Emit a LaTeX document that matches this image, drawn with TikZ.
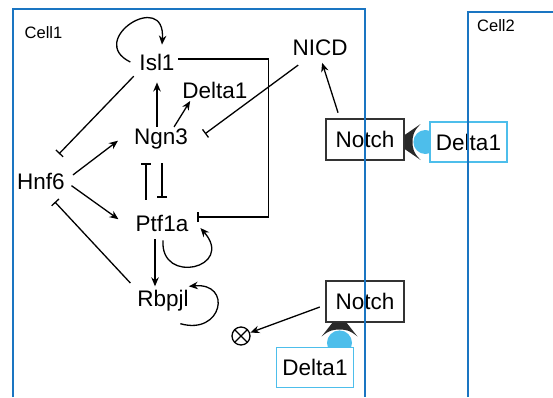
\documentclass[tikz,border=0pt]{standalone}
\usepackage{fontspec}
\setmainfont{Liberation Sans}
\usetikzlibrary{arrows.meta,backgrounds}

\definecolor{cellblue}{HTML}{1A75C2}
\definecolor{ligandblue}{HTML}{4DBEEB}
\definecolor{boxgray}{HTML}{333333}

\newcommand{\genefont}{\fontsize{22.5}{27}\selectfont}
\newcommand{\cellfont}{\fontsize{16.5}{20}\selectfont}

\tikzset{
	gene/.style={font=\genefont, inner sep=0pt},
	receptor/.style={draw=boxgray, line width=1.2pt, fill=white, font=\genefont, minimum width=78pt, minimum height=41pt, inner sep=0pt},
	ligand/.style={receptor, draw=ligandblue, minimum width=77pt, minimum height=40pt},
	act/.style={line width=1.3pt, -{Stealth[length=9pt,width=7.5pt]}},
	inh/.style={line width=1.3pt, -{Bar[width=10pt]}},
	cellwall/.style={draw=cellblue, line width=2pt},
	cup/.style={fill=boxgray!80!black},
}

\begin{document}
\begin{tikzpicture}[x=1pt, y=-1pt]
	\useasboundingbox (0,0) rectangle (553,397);

	\node[gene] (isl) at (157,62) {Isl1};
	\node[gene] (dl) at (215,90) {Delta1};
	\node[gene] (ngn) at (161,139) {Ngn3};
	\node[gene] (hnf) at (41,181) {Hnf6};
	\node[gene] (ptf) at (162,223) {Ptf1a};
	\node[gene] (rbp) at (163,301) {Rbpjl};
	\node[gene] (nicd) at (320,48) {NICD};
	\node[receptor] (notchA) at (365,139.5) {Notch};
	\node[ligand] (deltaA) at (468.5,142) {Delta1};
	\node[receptor] (notchB) at (365,301.5) {Notch};
	\node[ligand] (deltaB) at (315,367.5) {Delta1};
	\node[draw, circle, line width=1.3pt, minimum size=18pt, inner sep=0pt, outer sep=0pt] (ox) at (241,336) {};
	\draw[line width=1.3pt] (ox.45) -- (ox.225) (ox.135) -- (ox.-45);

	\node[font=\cellfont] (cellA) at (43.5,33) {Cell1};
	\node[font=\cellfont] (cellB) at (496,26) {Cell2};

	\draw[act] ([xshift=-9pt]isl.west) .. controls +(-45,-22) and +(4,-56) .. ([shift={(5pt,9pt)}]isl.north);
	\draw[inh, shorten <=8pt, shorten >=26pt] (isl.south west) -- (hnf.north);
	\draw[act, shorten <=10pt, shorten >=20pt] (hnf.east) -- (ngn.north west);
	\draw[act, shorten <=8pt, shorten >=21pt] (hnf.east) -- (ptf.south west);
	\draw[inh, shorten <=10pt, shorten >=17pt] (rbp.north west) -- (hnf.-75);
	\draw[act, shorten <=2pt, shorten >=12pt] (ngn.north -| isl.south) -- (isl.south);
	\draw[act, shorten <=2pt, shorten >=3pt] ([xshift=12pt]ngn.north) -- (dl.-160);
	\draw[inh, shorten <=15pt, shorten >=21pt] (nicd.-140) -- (ngn.-15);
	\draw[act, shorten <=6pt, shorten >=7pt] (notchA.140) -- (nicd.south);
	\draw[inh, shorten <=3.5pt, shorten >=9pt] ([yshift=3pt]isl.east) -- ++(93.5,0) |- ([yshift=6pt]ptf.east);
	\draw[inh, shorten <=15pt, shorten >=14pt] ([xshift=-16pt]ptf.north) -- ([xshift=-15pt]ngn.south);
	\draw[inh, shorten <=14pt, shorten >=17pt] ([xshift=1pt]ngn.south) -- (ptf.north);
	\draw[act] ([shift={(1pt,-9pt)}]ptf.south) .. controls +(-3,45) and +(35,40) .. ([shift={(12pt,-5pt)}]ptf.east);
	\draw[act, shorten <=8pt, shorten >=4pt] ([xshift=-7pt]ptf.south) -- ([xshift=-8pt]rbp.north);
	\draw[act] ([shift={(-8.5pt,-12pt)}]rbp.south east) .. controls +(42,12) and +(44,-4) .. ([yshift=4pt]rbp.north east);
	\draw[act, shorten <=6pt, shorten >=1pt] (notchB.185) -- (ox);

	\begin{scope}[on background layer]
		\fill[ligandblue] ([xshift=-4pt]deltaA.west) circle (12pt);
		\fill[ligandblue] ([shift={(24.5pt,4pt)}]deltaB.north) circle (12.5pt);
	\end{scope}
	\coordinate (cupA) at ([yshift=-2.5pt]notchA.east);
	\coordinate (cupB) at ([xshift=-25.5pt]notchB.south);
	\fill[cup, shift={(cupA)}, rotate=90] (-7,0) -- (7,0) -- (18,16) .. controls (10,8) and (5,8) .. (0,8) .. controls (-5,8) and (-10,8) .. (-18,16) -- cycle;
	\fill[cup, shift={(cupB)}] (-7,0) -- (7,0) -- (18,14) .. controls (10,7) and (5,7) .. (0,7) .. controls (-5,7) and (-10,7) .. (-18,14) -- cycle;

	\draw[cellwall] (13,397) -- (13,9) -- (365,9) -- (365,397);
	\draw[cellwall] (468,397) -- (468,12) -- (553,12);
\end{tikzpicture}
\end{document}
